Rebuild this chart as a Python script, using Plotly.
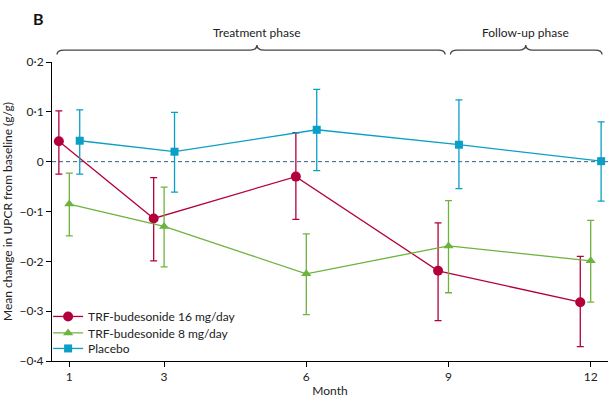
import plotly.graph_objects as go

months = [1, 3, 6, 9, 12]
series_names = ["TRF-budesonide 16 mg/day", "TRF-budesonide 8 mg/day", "Placebo"]

mean_16 = [0.041, -0.114, -0.030, -0.219, -0.282]
upper_16 = [0.102, -0.032, 0.058, -0.123, -0.190]
lower_16 = [-0.025, -0.199, -0.116, -0.319, -0.371]

mean_8 = [-0.085, -0.130, -0.225, -0.169, -0.199]
upper_8 = [-0.023, -0.051, -0.145, -0.078, -0.118]
lower_8 = [-0.149, -0.211, -0.307, -0.263, -0.282]

mean_pl = [0.042, 0.020, 0.064, 0.034, 0.001]
upper_pl = [0.104, 0.099, 0.145, 0.124, 0.080]
lower_pl = [-0.025, -0.061, -0.018, -0.054, -0.079]

ytick_vals = [-0.4, -0.3, -0.2, -0.1, 0, 0.1, 0.2]
ytick_text = ["\u22120\u00b74", "\u22120\u00b73", "\u22120\u00b72", "\u22120\u00b71", "0", "0\u00b71", "0\u00b72"]

colors = ["#B4003A", "#6DB33F", "#0A9FC7"]
symbols = ["circle", "triangle-up", "square"]
sizes = [10, 9, 8]
dodge = [-0.22, 0.0, 0.22]

means = [mean_16, mean_8, mean_pl]
uppers = [upper_16, upper_8, upper_pl]
lowers = [lower_16, lower_8, lower_pl]

FONT = "Lato"
fig = go.Figure()

legend_ids = ["legend", "legend2", "legend3"]
legend_y = [0.149, 0.094, 0.042]

for i in range(3):
    xs = [m + dodge[i] for m in months]
    fig.add_trace(go.Scatter(
        x=xs, y=means[i], name=series_names[i], mode="lines+markers",
        line=dict(color=colors[i], width=1.3),
        marker=dict(symbol=symbols[i], size=sizes[i], color=colors[i]),
        error_y=dict(type="data", symmetric=False,
                     array=[u - m for u, m in zip(uppers[i], means[i])],
                     arrayminus=[m - l for l, m in zip(lowers[i], means[i])],
                     color=colors[i], thickness=1.3, width=3.5),
        cliponaxis=False,
        legend=legend_ids[i],
    ))

# zero reference line
fig.add_shape(type="line", xref="paper", yref="y", x0=0, x1=1, y0=0, y1=0,
              line=dict(color="#2C6280", width=1, dash="4px,3px"), layer="below")


def brace(x0, x1, xm, d=0.15, yend=1.025, ymid=1.040, ytip=1.057):
    return (f"M {x0},{yend} Q {x0},{ymid} {x0 + d},{ymid} L {xm - d},{ymid} "
            f"Q {xm},{ymid} {xm},{ytip} Q {xm},{ymid} {xm + d},{ymid} "
            f"L {x1 - d},{ymid} Q {x1},{ymid} {x1},{yend}")


phases = [("Treatment phase", 0.74, 8.93, 4.96), ("Follow-up phase", 9.04, 12.24, 10.63)]
for label, a, b, m in phases:
    fig.add_shape(type="path", xref="x", yref="paper", path=brace(a, b, m),
                  line=dict(color="#444444", width=1.3))
    fig.add_annotation(x=m, y=1.097, xref="x", yref="paper", text=label, showarrow=False,
                       xanchor="center", yanchor="middle",
                       font=dict(size=12, color="#222222", family=FONT))

fig.add_annotation(x=-0.024, y=1.147, xref="paper", yref="paper", text="<b>B</b>",
                   showarrow=False, xanchor="center", yanchor="middle",
                   font=dict(size=16, color="#111111", family=FONT))

legend_common = dict(xanchor="left", yanchor="middle", bgcolor="rgba(0,0,0,0)",
                     font=dict(size=12, family=FONT, color="#222222"), itemwidth=30)
layout_legends = {}
for lid, ly in zip(legend_ids, legend_y):
    layout_legends[lid] = dict(x=-0.007, y=ly, **legend_common)

fig.update_layout(
    width=609, height=398,
    margin=dict(l=52, r=1, t=62, b=35),
    paper_bgcolor="white", plot_bgcolor="white",
    font=dict(family=FONT, size=11, color="#222222"),
    showlegend=True,
    xaxis=dict(range=[0.635, 12.365], tickvals=months, ticktext=[str(m) for m in months],
               showgrid=False, zeroline=False, showline=True, linecolor="black", linewidth=1,
               ticks="outside", ticklen=5, tickcolor="black",
               title=dict(text="Month", standoff=4, font=dict(size=12, family=FONT)),
               tickfont=dict(size=12, family=FONT)),
    yaxis=dict(range=[-0.4, 0.2], tickvals=ytick_vals, ticktext=ytick_text,
               showgrid=False, zeroline=False, showline=True, linecolor="black", linewidth=1,
               ticks="outside", ticklen=5, tickcolor="black",
               title=dict(text="Mean change in UPCR from baseline (g/g)", standoff=6,
                          font=dict(size=12, family=FONT)),
               tickfont=dict(size=12, family=FONT)),
    **layout_legends,
)

fig.write_html("out.html", config={"displayModeBar": False},
               post_script="document.body.style.margin='0px';")
